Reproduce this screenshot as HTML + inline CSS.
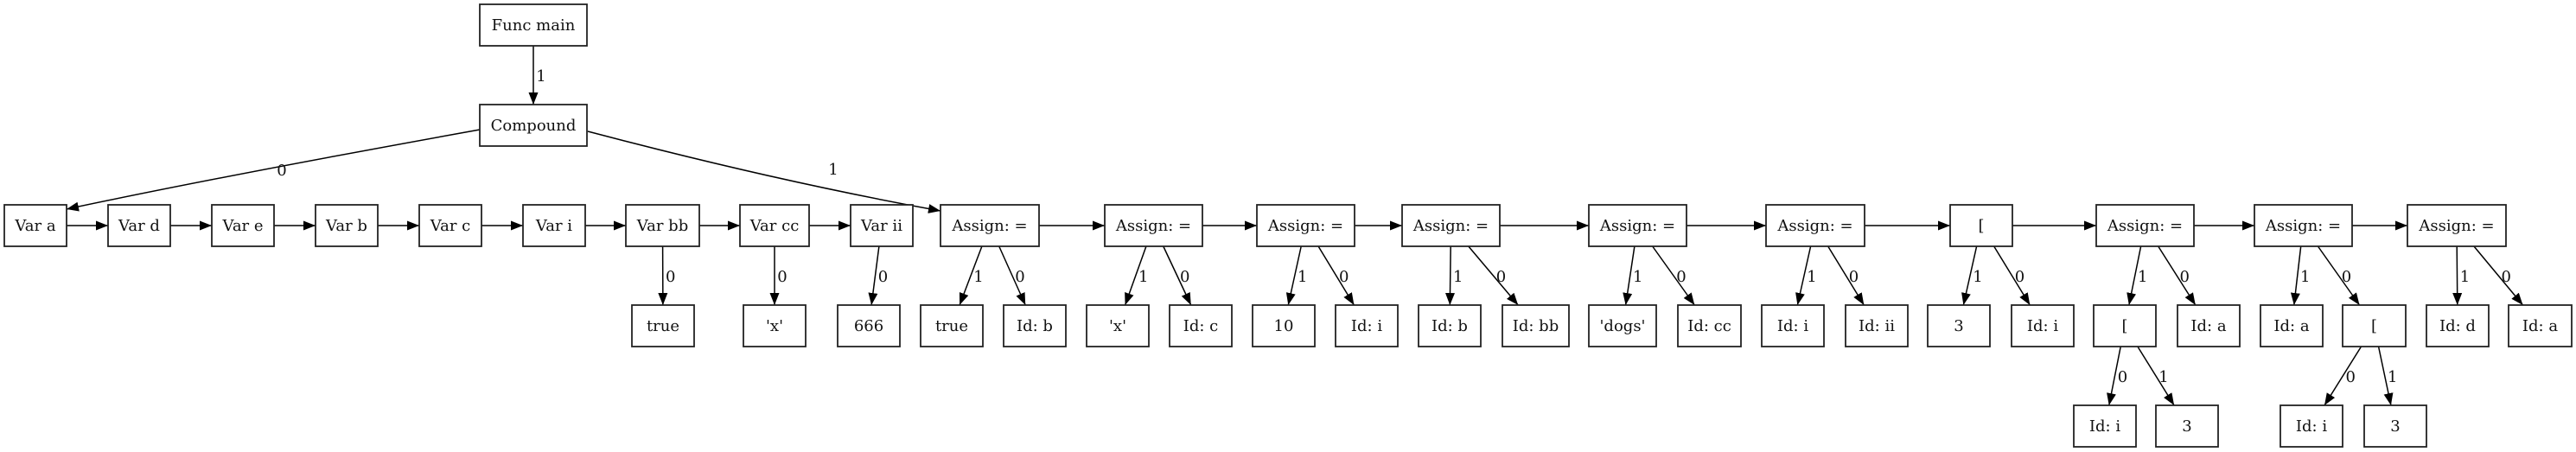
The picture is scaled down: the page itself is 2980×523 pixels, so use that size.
<!DOCTYPE html>
<html><head><meta charset="utf-8"><style>
html,body{margin:0;padding:0;background:#fff;}
svg{display:block;}
text{font-family:"DejaVu Serif","Liberation Serif",serif;font-size:18px;fill:#111;}
</style></head><body>
<svg id="s" xmlns="http://www.w3.org/2000/svg" width="2980" height="523" viewBox="0 0 2980 523">
<defs><marker id="ar" markerUnits="userSpaceOnUse" markerWidth="16" markerHeight="12" refX="14" refY="5.5" orient="auto"><path d="M0,0 L14,5.5 L0,11 Z" fill="#000"/></marker></defs>
<g id="g"></g>
</svg>
<script>
var rows=[5,121,237,353,469],H=48;
var N={};
function n(id,t,x1,x2,r){N[id]={t:t,x1:x1,x2:x2,y:rows[r]};}
n('F','Func main',555,679,0);n('C','Compound',555,679,1);
var vs=[['va','Var a',5,77],['vd','Var d',125,197],['ve','Var e',245,317],['vb','Var b',365,437],['vc','Var c',485,557],['vi','Var i',605,677],['vbb','Var bb',724,809],['vcc','Var cc',856,936],['vii','Var ii',984,1056]];
vs.forEach(function(v){n(v[0],v[1],v[2],v[3],2);});
n('t1','true',731,803,3);n('x1',"'x'",860,932,3);n('n666','666',969,1041,3);
n('A1','Assign: =',1088,1202,2);n('t2','true',1065,1137,3);n('idb','Id: b',1161,1233,3);
n('A2','Assign: =',1278,1391,2);n('x2',"'x'",1257,1329,3);n('idc','Id: c',1353,1425,3);
n('A3','Assign: =',1454,1567,2);n('n10','10',1449,1521,3);n('idi','Id: i',1545,1617,3);
n('A4','Assign: =',1622,1735,2);n('idb2','Id: b',1641,1713,3);n('idbb','Id: bb',1738,1815,3);
n('A5','Assign: =',1838,1951,2);n('dogs',"'dogs'",1838,1916,3);n('idcc','Id: cc',1941,2014,3);
n('A6','Assign: =',2043,2157,2);n('idi2','Id: i',2038,2110,3);n('idii','Id: ii',2135,2207,3);
n('B1','[',2256,2328,2);n('n3','3',2230,2302,3);n('idi3','Id: i',2327,2399,3);
n('A7','Assign: =',2425,2538,2);n('B2','[',2422,2494,3);n('ida','Id: a',2519,2591,3);n('idi4','Id: i',2399,2471,4);n('n3b','3',2494,2566,4);
n('A8','Assign: =',2608,2721,2);n('ida2','Id: a',2615,2687,3);n('B3','[',2710,2783,3);n('idi5','Id: i',2638,2710,4);n('n3c','3',2735,2807,4);
n('A9','Assign: =',2785,2899,2);n('idd','Id: d',2807,2879,3);n('ida3','Id: a',2902,2975,3);
var g=document.getElementById('g'),NS='http://www.w3.org/2000/svg';
function el(tag,a,txt){var e=document.createElementNS(NS,tag);for(var k in a)e.setAttribute(k,a[k]);if(txt!==undefined)e.textContent=txt;g.appendChild(e);return e;}
function line(x1,y1,x2,y2){el('line',{x1:x1,y1:y1,x2:x2,y2:y2,stroke:'#000','stroke-width':1.5,'marker-end':'url(#ar)'});}
function lab(x,y,t){el('text',{x:x,y:y,'text-anchor':'middle'},t);}
function chain(a){for(var i=0;i<a.length-1;i++){var p=N[a[i]],q=N[a[i+1]];line(p.x2,261,q.x1,261);}}
chain(['va','vd','ve','vb','vc','vi','vbb','vcc','vii']);
chain(['A1','A2','A3','A4','A5','A6','B1','A7','A8','A9']);
function down(pa,ch,l){var p=N[pa],c=N[ch];var px=(p.x1+p.x2)/2,py=p.y+H/2,cx=(c.x1+c.x2)/2,cy=c.y+H/2;
 var sy=p.y+H,ey=c.y;var sx=px+(cx-px)*(sy-py)/(cy-py),ex=px+(cx-px)*(ey-py)/(cy-py);
 line(sx,sy,ex,ey);lab((sx+ex)/2+9,(sy+ey)/2+7,l);}
down('F','C','1');
[['vbb','t1','0'],['vcc','x1','0'],['vii','n666','0'],
['A1','t2','1'],['A1','idb','0'],['A2','x2','1'],['A2','idc','0'],['A3','n10','1'],['A3','idi','0'],
['A4','idb2','1'],['A4','idbb','0'],['A5','dogs','1'],['A5','idcc','0'],['A6','idi2','1'],['A6','idii','0'],
['B1','n3','1'],['B1','idi3','0'],['A7','B2','1'],['A7','ida','0'],['B2','idi4','0'],['B2','n3b','1'],
['A8','ida2','1'],['A8','B3','0'],['B3','idi5','0'],['B3','n3c','1'],['A9','idd','1'],['A9','ida3','0']].forEach(function(e){down(e[0],e[1],e[2]);});
el('path',{d:'M555,150 Q250,205 77,242',fill:'none',stroke:'#000','stroke-width':1.5,'marker-end':'url(#ar)'});
lab(326,203,'0');
el('path',{d:'M680,152 Q900,210 1088,244',fill:'none',stroke:'#000','stroke-width':1.5,'marker-end':'url(#ar)'});
lab(964,202,'1');
for(var k in N){var o=N[k];el('rect',{x:o.x1,y:o.y,width:o.x2-o.x1,height:H,fill:'#fff',stroke:'#222','stroke-width':1.8});
 lab((o.x1+o.x2)/2,o.y+H/2+6,o.t);}
</script>
</body></html>
